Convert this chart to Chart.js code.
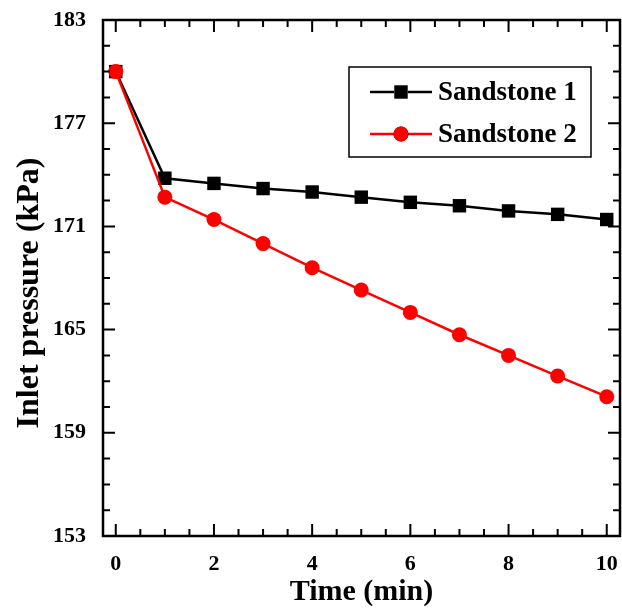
<!DOCTYPE html>
<html lang="en">
<head>
  <meta charset="UTF-8">
  <title>Inlet pressure</title>
  <script src="https://cdn.jsdelivr.net/npm/chart.js"></script>
  <style>
    body { margin: 0; background: #fff; }
  </style>
</head>
<body>
<canvas id="pressureChart" width="622" height="610"></canvas>

<script>
// data
const timeMin = [0, 1, 2, 3, 4, 5, 6, 7, 8, 9, 10];
const sandstone1 = [180.0, 173.8, 173.5, 173.2, 173.0, 172.7, 172.4, 172.2, 171.9, 171.7, 171.4];
const sandstone2 = [180.0, 172.7, 171.4, 170.0, 168.6, 167.3, 166.0, 164.7, 163.5, 162.3, 161.1];
const xTicks = [0, 2, 4, 6, 8, 10];
const yTicks = [153, 159, 165, 171, 177, 183];
const xMinor = [0.5, 1, 1.5, 2.5, 3, 3.5, 4.5, 5, 5.5, 6.5, 7, 7.5, 8.5, 9, 9.5];
const yMinor = [154.5, 156, 157.5, 160.5, 162, 163.5, 166.5, 168, 169.5, 172.5, 174, 175.5, 178.5, 180, 181.5];
const yTitle = "Inlet pressure (kPa)";

const FONT = "'Liberation Serif', 'Times New Roman', serif";

// frame + inward ticks on all four sides, plus the y title (sits a bit low in the original)
const frameTicks = {
  id: "frameTicks",
  afterDatasetsDraw(chart) {
    const { ctx, chartArea: a, scales: { x, y } } = chart;
    ctx.save();
    ctx.strokeStyle = "#000";
    ctx.lineWidth = 2;
    ctx.beginPath();
    const tick = (v, len, horiz) => {
      if (horiz) {
        const px = x.getPixelForValue(v);
        ctx.moveTo(px, a.bottom); ctx.lineTo(px, a.bottom - len);
        ctx.moveTo(px, a.top); ctx.lineTo(px, a.top + len);
      } else {
        const py = y.getPixelForValue(v);
        ctx.moveTo(a.left, py); ctx.lineTo(a.left + len, py);
        ctx.moveTo(a.right, py); ctx.lineTo(a.right - len, py);
      }
    };
    xTicks.forEach(v => tick(v, 12, true));
    xMinor.forEach(v => tick(v, 7, true));
    yTicks.forEach(v => tick(v, 12, false));
    yMinor.forEach(v => tick(v, 7, false));
    ctx.stroke();
    ctx.lineWidth = 2.5;
    ctx.strokeRect(a.left, a.top, a.right - a.left, a.bottom - a.top);

    ctx.translate(30, 293);
    ctx.rotate(-Math.PI / 2);
    ctx.fillStyle = "#000";
    ctx.font = "bold 32px " + FONT;
    ctx.textAlign = "center";
    ctx.textBaseline = "middle";
    ctx.fillText(yTitle, 0, 0);
    ctx.restore();
  }
};

// boxed legend with line + marker samples
const boxLegend = {
  id: "boxLegend",
  afterDraw(chart) {
    const { ctx } = chart;
    const bx = 349, by = 67, bw = 242, bh = 90;
    ctx.save();
    ctx.fillStyle = "#fff";
    ctx.fillRect(bx, by, bw, bh);
    ctx.strokeStyle = "#000";
    ctx.lineWidth = 1.5;
    ctx.strokeRect(bx, by, bw, bh);
    chart.data.datasets.forEach((ds, i) => {
      const cy = 92 + i * 42;
      ctx.strokeStyle = ds.borderColor;
      ctx.lineWidth = ds.borderWidth;
      ctx.beginPath();
      ctx.moveTo(370, cy); ctx.lineTo(432, cy);
      ctx.stroke();
      Chart.helpers.drawPoint(ctx, {
        pointStyle: ds.pointStyle, radius: ds.pointRadius, borderWidth: 0
      }, 401, cy);
      ctx.fillStyle = ds.pointBackgroundColor;
      ctx.fill();
      ctx.fillStyle = "#000";
      ctx.font = "bold 27px " + FONT;
      ctx.textBaseline = "middle";
      ctx.fillText(ds.label, 438, cy + 1);
    });
    ctx.restore();
  }
};

const ctx = document.getElementById("pressureChart").getContext("2d");
new Chart(ctx, {
  type: "line",
  data: {
    datasets: [
      {
        label: "Sandstone 1",
        data: timeMin.map((t, i) => ({ x: t, y: sandstone1[i] })),
        borderColor: "#000",
        borderWidth: 2.5,
        pointStyle: "rect",
        pointRadius: 9.5,
        pointBackgroundColor: "#000",
        pointBorderWidth: 0,
        order: 2
      },
      {
        label: "Sandstone 2",
        data: timeMin.map((t, i) => ({ x: t, y: sandstone2[i] })),
        borderColor: "#ff0000",
        borderWidth: 2.5,
        pointStyle: "circle",
        pointRadius: 7.5,
        pointBackgroundColor: "#ff0000",
        pointBorderWidth: 0,
        order: 1
      }
    ]
  },
  options: {
    responsive: false,
    animation: false,
    layout: { autoPadding: false, padding: { top: 20, right: 2, left: 0, bottom: 0 } },
    plugins: {
      legend: { display: false },
      tooltip: { enabled: false }
    },
    scales: {
      x: {
        type: "linear",
        min: -0.26,
        max: 10.27,
        afterBuildTicks: s => { s.ticks = xTicks.map(v => ({ value: v })); },
        afterFit: s => { s.height = 74; s.paddingLeft = 0; s.paddingRight = 0; },
        grid: { display: false, drawTicks: false },
        border: { display: false },
        ticks: {
          color: "#000",
          padding: 15,
          font: { family: FONT, size: 22, weight: "bold" }
        },
        title: {
          display: true,
          text: "Time (min)",
          color: "#000",
          padding: { top: 0, bottom: 0 },
          font: { family: FONT, size: 30, weight: "bold" }
        }
      },
      y: {
        min: 153,
        max: 183,
        afterBuildTicks: s => { s.ticks = yTicks.map(v => ({ value: v })); },
        afterFit: s => { s.width = 103; s.paddingTop = 0; s.paddingBottom = 0; },
        grid: { display: false, drawTicks: false },
        border: { display: false },
        ticks: {
          color: "#000",
          padding: 17,
          font: { family: FONT, size: 22, weight: "bold" }
        },
        title: { display: false }
      }
    }
  },
  plugins: [frameTicks, boxLegend]
});
</script>
</body>
</html>
